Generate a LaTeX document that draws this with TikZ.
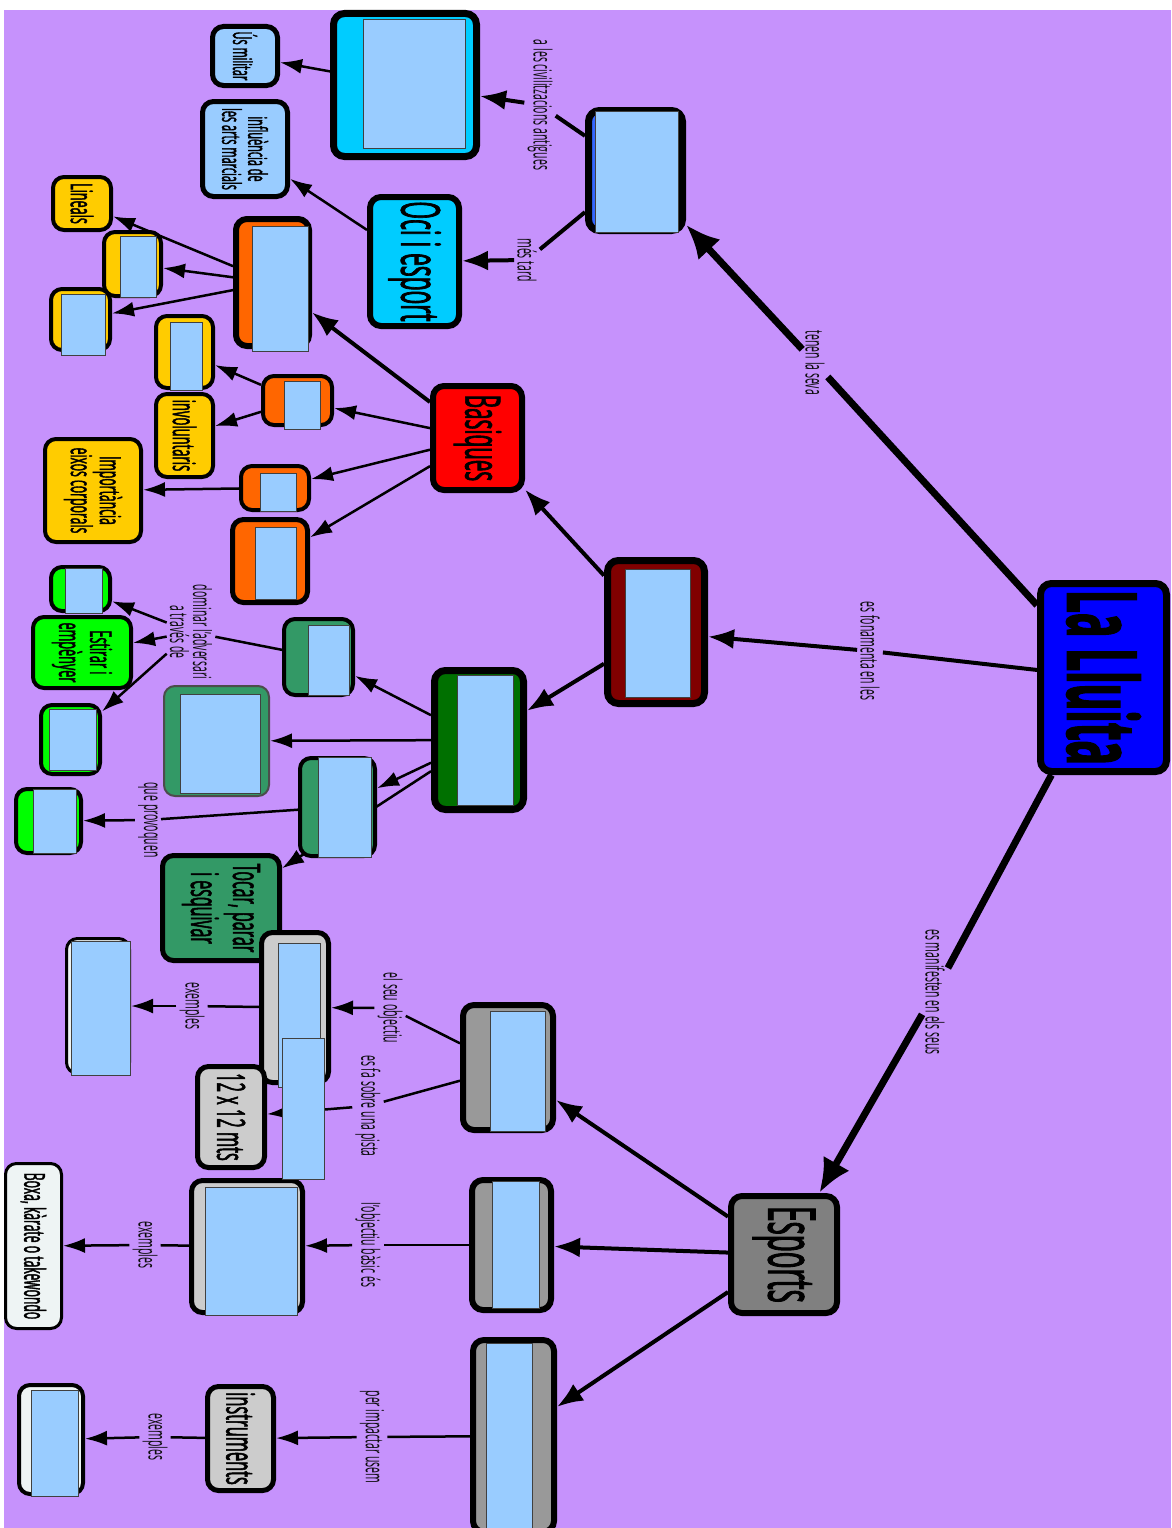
\documentclass[tikz,border=0pt]{standalone}
\usepackage{fontspec}
\setmainfont{Open Sans}[FakeStretch=0.42]
\newfontfamily\boxfont{Open Sans}[FakeStretch=0.42, FakeBold=1.3]
\usetikzlibrary{arrows.meta,calc}
\pgfdeclarelayer{paper}
\pgfdeclarelayer{links}
\pgfsetlayers{paper,links,main}

\definecolor{paperc}{RGB}{198,146,252}
\definecolor{imgblue}{RGB}{153,204,255}
\definecolor{lluita}{RGB}{0,0,255}
\definecolor{royal}{RGB}{51,102,255}
\definecolor{sky}{RGB}{0,204,255}
\definecolor{orangec}{RGB}{255,102,0}
\definecolor{goldc}{RGB}{255,204,0}
\definecolor{redc}{RGB}{255,0,0}
\definecolor{maroonc}{RGB}{128,0,0}
\definecolor{forest}{RGB}{0,112,0}
\definecolor{seagreen}{RGB}{51,153,102}
\definecolor{limec}{RGB}{0,255,0}
\definecolor{silverc}{RGB}{204,204,204}
\definecolor{grayc}{RGB}{153,153,153}
\definecolor{darkgrayc}{RGB}{128,128,128}
\definecolor{whitec}{RGB}{238,244,244}

\newcommand{\fs}[1]{\boxfont\fontsize{#1}{#1}\selectfont}

\tikzset{
  cbox/.style={draw=black, rounded corners=11pt, rotate=-90, inner sep=0pt,
    align=center, text=black},
  imgph/.style={draw=black!75, line width=1pt, fill=imgblue, inner sep=0pt},
  lab/.style={rotate=-90, inner sep=3pt, align=center, text=black!95,
    font=\fontsize{25}{23}\selectfont},
  thinline/.style={line width=2.5pt},
  thinarrow/.style={line width=2.5pt, -{Latex[length=22pt,width=15pt]}},
  midline/.style={line width=4pt},
  midarrow/.style={line width=4pt, -{Latex[length=26pt,width=20pt]}},
  bigline/.style={line width=7pt},
  bigarrow/.style={line width=7pt, -{Latex[length=34pt,width=30pt]}},
}

\begin{document}
\begin{tikzpicture}[x=1pt,y=-1pt]
\useasboundingbox (0,0) rectangle (1171,1528);
\begin{pgfonlayer}{paper}
  \fill[white] (0,0) rectangle (1171,1528);
  \fill[paperc] (4,10) rectangle (1171,1528);
\end{pgfonlayer}

% ---- concept boxes ----
\node[cbox, fill=lluita, line width=7pt, minimum width=188, minimum height=126,
  font=\fs{97}\bfseries] (lluita) at (1103.5,677.5) {La Lluita};
\node[cbox, fill=royal, line width=7pt, minimum width=120, minimum height=94] (hist) at (635.5,170.5) {};
\node[cbox, fill=sky, line width=7pt, minimum width=143, minimum height=143] (antic) at (405,85) {};
\node[cbox, fill=imgblue, line width=5pt, minimum width=59, minimum height=65,
  font=\fs{26}] (militar) at (245,56) {Ús militar};
\node[cbox, fill=imgblue, line width=5pt, minimum width=95, minimum height=85,
  font=\fs{26}] (arts) at (245,149) {influència de\\les arts marcials};
\node[cbox, fill=sky, line width=6pt, minimum width=129, minimum height=89,
  font=\fs{54}] (oci) at (414.5,261.5) {Oci i esport};

\node[cbox, fill=orangec, line width=6pt, minimum width=127, minimum height=73] (or1) at (272.5,282.5) {};
\node[cbox, fill=goldc, line width=4pt, minimum width=53, minimum height=58,
  font=\fs{30}] (lineals) at (82,203.5) {Lineals};
\node[cbox, fill=goldc, line width=4pt, minimum width=64, minimum height=57] (ye1) at (132.5,264) {};
\node[cbox, fill=goldc, line width=4pt, minimum width=61, minimum height=59] (ye2) at (80.5,319.5) {};
\node[cbox, fill=goldc, line width=4pt, minimum width=72, minimum height=57] (ye3) at (184.5,352) {};
\node[cbox, fill=goldc, line width=4pt, minimum width=83, minimum height=57,
  font=\fs{31}] (invol) at (184.5,435.5) {involuntaris};
\node[cbox, fill=orangec, line width=4pt, minimum width=49, minimum height=69] (or2) at (297.5,400.5) {};
\node[cbox, fill=goldc, line width=4pt, minimum width=103, minimum height=96,
  font=\fs{29}] (eixos) at (93,490.5) {Importància\\eixos corporals};
\node[cbox, fill=orangec, line width=4pt, minimum width=44, minimum height=68] (or3) at (275,488) {};
\node[cbox, fill=orangec, line width=5pt, minimum width=83, minimum height=75] (or4) at (270,561) {};
\node[cbox, fill=redc, line width=6pt, minimum width=104, minimum height=89,
  font=\fs{49}] (basiques) at (477.5,438) {Basiques};

\node[cbox, fill=maroonc, line width=7pt, minimum width=143, minimum height=97] (fonam) at (656,632) {};
\node[cbox, fill=forest, line width=7pt, minimum width=139, minimum height=89] (tact) at (479,740) {};
\node[cbox, fill=seagreen, line width=4pt, minimum width=76, minimum height=69] (ctrl) at (318.5,657) {};
\node[cbox, fill=seagreen, draw=black!70, line width=2pt, minimum width=110, minimum height=105] (tg2) at (216.5,741) {};
\node[cbox, fill=seagreen, line width=4pt, minimum width=98, minimum height=75] (tg3) at (337.5,807) {};
\node[cbox, fill=seagreen, line width=5pt, minimum width=105, minimum height=117,
  font=\boxfont\fontsize{38}{42}\selectfont] (tocar) at (221,908) {Tocar, parar\\i esquivar};
\node[cbox, fill=limec, line width=4pt, minimum width=44, minimum height=59] (gr1) at (80.5,589) {};
\node[cbox, fill=limec, line width=4pt, minimum width=71, minimum height=98,
  font=\boxfont\fontsize{30}{31}\selectfont] (estirar) at (82,652.5) {Estirar i\\empènyer};
\node[cbox, fill=limec, line width=4pt, minimum width=69, minimum height=59] (gr2) at (70.5,739.5) {};
\node[cbox, fill=limec, line width=4pt, minimum width=64, minimum height=65] (gr3) at (48.5,821) {};

\node[cbox, fill=silverc, line width=5pt, minimum width=150, minimum height=67] (objec) at (295,1007.5) {};
\node[cbox, fill=silverc, line width=5pt, minimum width=101, minimum height=67,
  font=\fs{39}] (pista) at (231,1117) {12 x 12 mts};
\node[cbox, fill=whitec, line width=3pt, minimum width=135, minimum height=63] (ex1) at (98,1006) {};
\node[cbox, fill=grayc, line width=6pt, minimum width=125, minimum height=90] (sp1) at (508,1067.5) {};
\node[cbox, fill=grayc, line width=6pt, minimum width=130, minimum height=79] (sp2) at (511.5,1245) {};
\node[cbox, fill=grayc, line width=6pt, minimum width=192, minimum height=81] (sp3) at (513.5,1436) {};
\node[cbox, fill=darkgrayc, line width=6pt, minimum width=117, minimum height=106,
  font=\fs{66}] (esports) at (784,1254.5) {Esports};
\node[cbox, fill=silverc, line width=5pt, minimum width=132, minimum height=111] (basic) at (247,1246.5) {};
\node[cbox, fill=whitec, line width=3pt, minimum width=165, minimum height=56,
  font=\fs{29}] (boxa) at (33.5,1246) {Boxa, kàrate o takewondo};
\node[cbox, fill=silverc, line width=5pt, minimum width=104, minimum height=66,
  font=\fs{39}] (instr) at (240.5,1438.5) {instruments};
\node[cbox, fill=whitec, line width=4pt, minimum width=109, minimum height=64] (ex3) at (51,1439.5) {};

% ---- picture placeholders laid over the boxes ----
\node[imgph, minimum width=83, minimum height=121] (hist-img) at (636.5,171.5) {};
\node[imgph, minimum width=102, minimum height=128] (antic-img) at (414,84) {};
\node[imgph, minimum width=56, minimum height=125] (or1-img) at (280,288.5) {};
\node[imgph, minimum width=36, minimum height=61] (ye1-img) at (138,266.5) {};
\node[imgph, minimum width=44, minimum height=61] (ye2-img) at (83,324.5) {};
\node[imgph, minimum width=32, minimum height=68] (ye3-img) at (186,356) {};
\node[imgph, minimum width=36, minimum height=48] (or2-img) at (302,405) {};
\node[imgph, minimum width=36, minimum height=38] (or3-img) at (278,492) {};
\node[imgph, minimum width=41, minimum height=72] (or4-img) at (275.5,563) {};
\node[imgph, minimum width=65, minimum height=128] (fonam-img) at (657.5,633) {};
\node[imgph, minimum width=56, minimum height=130] (tact-img) at (485,740) {};
\node[imgph, minimum width=41, minimum height=70] (ctrl-img) at (328.5,660) {};
\node[imgph, minimum width=80, minimum height=99] (tg2-img) at (220,743.5) {};
\node[imgph, minimum width=53, minimum height=100] (tg3-img) at (344.5,807) {};
\node[imgph, minimum width=37, minimum height=45] (gr1-img) at (83.5,590.5) {};
\node[imgph, minimum width=47, minimum height=61] (gr2-img) at (72.5,739.5) {};
\node[imgph, minimum width=43, minimum height=64] (gr3-img) at (54.5,821) {};
\node[imgph, minimum width=42, minimum height=144] (objec-img) at (299,1015) {};
\node[imgph, minimum width=42, minimum height=141] (objec-img2) at (303,1108.5) {};
\node[imgph, minimum width=59, minimum height=134] (ex1-img) at (100.5,1008) {};
\node[imgph, minimum width=55, minimum height=120] (sp1-img) at (517.5,1071) {};
\node[imgph, minimum width=47, minimum height=127] (sp2-img) at (515.5,1244.5) {};
\node[imgph, minimum width=46, minimum height=185] (sp3-img) at (509,1435.5) {};
\node[imgph, minimum width=92, minimum height=128] (basic-img) at (251,1251) {};
\node[imgph, minimum width=47, minimum height=106] (ex3-img) at (54.5,1443) {};

% ---- linking phrases ----
\node[lab] (l-seva) at (815,363) {tenen la seva};
\node[lab] (l-fonam) at (870,651) {es fonamenta en les};
\node[lab] (l-manif) at (935,992) {es manifesten en els seus};
\node[lab] (l-civil) at (540,105) {a les civilitzacions antigues};
\node[lab] (l-tard) at (527,260) {més tard};
\node[lab] (l-domin) at (191,632) {dominar l'adversari\\a través de};
\node[lab] (l-provoq) at (148,820) {que provoquen};
\node[lab] (l-obj) at (390,1008) {el seu objectiu};
\node[lab] (l-pista) at (368,1106) {es fa sobre una pista};
\node[lab] (l-ex1) at (192,1006) {exemples};
\node[lab] (l-basic) at (368,1245) {l'objectiu bàsic és};
\node[lab] (l-ex2) at (145,1245) {exemples};
\node[lab] (l-impact) at (372,1437) {per impactar usem};
\node[lab] (l-ex3) at (155,1437) {exemples};

% ---- connectors ----
\begin{pgfonlayer}{links}
  \draw[bigline] (lluita) -- (l-seva);
  \draw[bigarrow] (l-seva) -- (hist);
  \draw[midline] (lluita) -- (l-fonam);
  \draw[midarrow] (l-fonam) -- (fonam);
  \draw[bigline] (lluita) -- (l-manif);
  \draw[bigarrow] (l-manif) -- (esports);

  \draw[midline] (hist) -- (l-civil);
  \draw[midarrow] (l-civil) -- (antic);
  \draw[midline] (hist) -- (l-tard);
  \draw[midarrow] (l-tard) -- (oci);
  \draw[thinarrow] (antic) -- (militar);
  \draw[thinarrow] (oci) -- (arts);

  \draw[midarrow] (fonam) -- (basiques);
  \draw[midarrow] (fonam) -- (tact);

  \draw[midarrow] (basiques) -- (or1);
  \draw[thinarrow] (basiques) -- (or2);
  \draw[thinarrow] (basiques) -- (or3);
  \draw[thinarrow] (basiques) -- (or4);
  \draw[thinarrow] (or1) -- (lineals);
  \draw[thinarrow] (or1) -- (ye1);
  \draw[thinarrow] (or1) -- (ye2);
  \draw[thinarrow] (or2) -- (ye3);
  \draw[thinarrow] (or2) -- (invol);
  \draw[thinarrow] (or3) -- (eixos);

  \draw[thinarrow] (tact) -- (ctrl);
  \draw[thinarrow] (tact) -- (tg2);
  \draw[thinarrow] (tact) -- (tg3);
  \draw[thinarrow] (tact) -- (tocar);
  \draw[thinline] (ctrl) -- (l-domin);
  \draw[thinarrow] (l-domin) -- (gr1);
  \draw[thinarrow] (l-domin) -- (estirar);
  \draw[thinarrow] (l-domin) -- (gr2);
  \draw[thinline] (tg3) -- (l-provoq);
  \draw[thinarrow] (l-provoq) -- (gr3);

  \draw[midarrow] (esports) -- (sp1);
  \draw[midarrow] (esports) -- (sp2);
  \draw[midarrow] (esports) -- (sp3);
  \draw[thinline] (sp1) -- (l-obj);
  \draw[thinarrow] (l-obj) -- (objec);
  \draw[thinline] (sp1) -- (l-pista);
  \draw[thinarrow] (l-pista) -- (pista);
  \draw[thinline] (objec) -- (l-ex1);
  \draw[thinarrow] (l-ex1) -- (ex1);
  \draw[thinline] (sp2) -- (l-basic);
  \draw[thinarrow] (l-basic) -- (basic);
  \draw[thinline] (basic) -- (l-ex2);
  \draw[thinarrow] (l-ex2) -- (boxa);
  \draw[thinline] (sp3) -- (l-impact);
  \draw[thinarrow] (l-impact) -- (instr);
  \draw[thinline] (instr) -- (l-ex3);
  \draw[thinarrow] (l-ex3) -- (ex3);
\end{pgfonlayer}
\end{tikzpicture}
\end{document}
